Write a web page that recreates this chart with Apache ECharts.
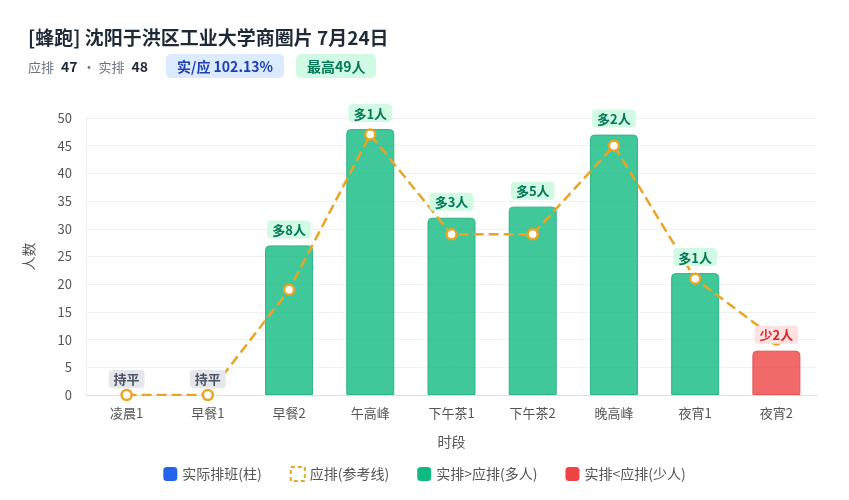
<!DOCTYPE html>
<html>
<head>
<meta charset="utf-8">
<script src="https://cdn.jsdelivr.net/npm/echarts@6/dist/echarts.min.js"></script>
<style>
  html, body { margin: 0; padding: 0; background: #fff; font-family: 'Noto Sans CJK SC', 'Noto Sans', sans-serif; }
  #wrap { position: relative; width: 849px; height: 500px; }
  #chart { position: absolute; left: 0; top: 0; width: 849px; height: 500px; }
  .title { position: absolute; left: 28px; top: 23px; font-size: 19px; font-weight: 700; color: #1f2937; }
  .sub { position: absolute; left: 28px; top: 54px; font-size: 13px; color: #6b7280; display: flex; align-items: center; }
  .sub b { color: #1f2937; font-size: 14px; margin: 0 5px 0 7px; }
  .pill { border-radius: 5px; padding: 2px 11px; font-weight: 700; font-size: 14px; margin-left: 12px; }
  .blue { background: #dbeafe; color: #1e40af; margin-left: 13px; }
  .green { background: #d1fae5; color: #047857; }
</style>
</head>
<body>
<div id="wrap">
  <div id="chart"></div>
  <div class="title">[蜂跑] 沈阳于洪区工业大学商圈片 7月24日</div>
  <div class="sub">应排<b>47</b>· 实排<b>48</b><span class="pill blue">实/应 102.13%</span><span class="pill green">最高49人</span></div>
</div>
<script>
const categories = ['凌晨1', '早餐1', '早餐2', '午高峰', '下午茶1', '下午茶2', '晚高峰', '夜宵1', '夜宵2']
const actual = [0, 0, 27, 48, 32, 34, 47, 22, 8]
const planned = [0, 0, 19, 47, 29, 29, 45, 21, 10]
const yTicks = [0, 50, 5]  // min, max, interval

const GREEN = '#10b981'
const RED = '#ef4444'
const BLUE = '#2563eb'
const ORANGE = '#eaa526'

const chart = echarts.init(document.getElementById('chart'))

const barData = actual.map((v, i) => {
  const over = v >= planned[i]
  return {
    value: v,
    itemStyle: {
      color: over ? 'rgba(16,185,129,0.8)' : 'rgba(239,68,68,0.8)',
      borderColor: over ? '#2fb585' : '#e25555',
      borderWidth: v > 0 ? 1 : 0,
    },
  }
})

const labelData = actual.map((v, i) => {
  const d = v - planned[i]
  let text, color, bg
  if (d === 0) { text = '持平'; color = '#4b5563'; bg = '#e5e7eb' }
  else if (d > 0) { text = '多' + d + '人'; color = '#047857'; bg = '#d1fae5' }
  else { text = '少' + (-d) + '人'; color = '#dc2626'; bg = '#fee2e2' }
  return {
    value: v,
    label: { formatter: text, color: color, backgroundColor: bg },
  }
})

const option = {
  textStyle: { fontFamily: 'Noto Sans CJK SC' },
  grid: { left: 86, right: 32, top: 118, bottom: 105 },
  legend: {
    bottom: 13,
    left: 'center',
    itemWidth: 14,
    itemHeight: 14,
    itemGap: 28,
    textStyle: { color: '#555', fontSize: 14 },
    data: [
      { name: '实际排班(柱)', icon: 'roundRect', itemStyle: { color: BLUE } },
      { name: '应排(参考线)', icon: 'rect', itemStyle: { color: '#fff', borderColor: ORANGE, borderWidth: 2, borderType: [4, 3] } },
      { name: '实排>应排(多人)', icon: 'roundRect', itemStyle: { color: GREEN } },
      { name: '实排<应排(少人)', icon: 'roundRect', itemStyle: { color: RED } },
    ],
  },
  xAxis: {
    type: 'category',
    data: categories,
    name: '时段',
    nameLocation: 'middle',
    nameGap: 40,
    nameTextStyle: { color: '#555', fontSize: 14 },
    axisTick: { show: false },
    axisLine: { lineStyle: { color: '#ddd' } },
    axisLabel: { color: '#555', fontSize: 13, margin: 12 },
  },
  yAxis: {
    type: 'value',
    min: yTicks[0],
    max: yTicks[1],
    interval: yTicks[2],
    name: '人数',
    nameLocation: 'middle',
    nameGap: 50,
    nameTextStyle: { color: '#555', fontSize: 14 },
    axisLine: { show: true, lineStyle: { color: '#eee' } },
    axisLabel: { color: '#555', fontSize: 13, margin: 14 },
    splitLine: { lineStyle: { color: '#f1f1f1' } },
  },
  series: [
    {
      name: '实际排班(柱)',
      type: 'bar',
      barWidth: 48,
      itemStyle: { color: BLUE, borderRadius: [4, 4, 0, 0] },
      data: barData,
      z: 2,
    },
    {
      name: '应排(参考线)',
      type: 'line',
      data: planned,
      symbol: 'circle',
      symbolSize: 10,
      lineStyle: { color: ORANGE, width: 2.5, type: 'dashed' },
      itemStyle: { color: '#fff', borderColor: ORANGE, borderWidth: 2.5 },
      z: 3,
    },
    {
      name: 'labels',
      type: 'bar',
      barWidth: 48,
      barGap: '-100%',
      itemStyle: { color: 'transparent' },
      label: {
        show: true,
        position: 'top',
        distance: 7,
        fontSize: 13,
        fontWeight: 'bold',
        padding: [3, 5, 2, 5],
        borderRadius: 4,
      },
      data: labelData,
      z: 5,
      silent: true,
    },
    { name: '实排>应排(多人)', type: 'line', data: [], itemStyle: { color: GREEN } },
    { name: '实排<应排(少人)', type: 'line', data: [], itemStyle: { color: RED } },
  ],
}
option && chart.setOption(option)
</script>
</body>
</html>
